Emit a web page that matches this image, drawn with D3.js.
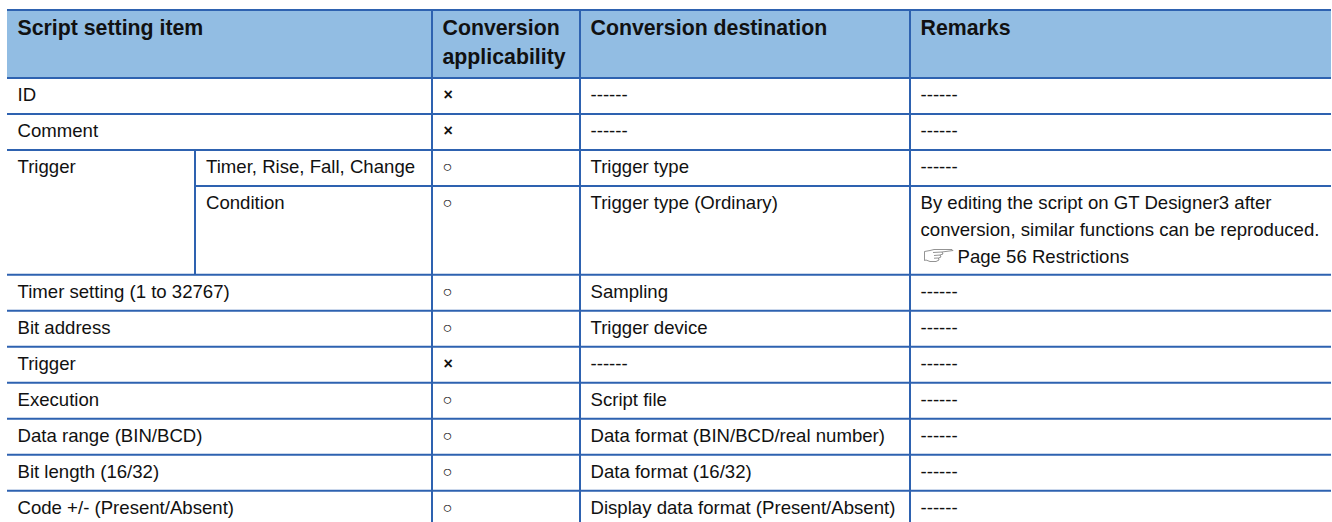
<!DOCTYPE html>
<html><head><meta charset="utf-8">
<script src="https://cdn.jsdelivr.net/npm/d3@7/dist/d3.min.js"></script>
<style>html,body{margin:0;padding:0;background:#fff;overflow:hidden}svg{display:block}</style>
</head><body><svg id="c" width="1332" height="522"></svg>
<script>
const headers = [["Script setting item"],["Conversion","applicability"],["Conversion destination"],["Remarks"]];
const items = ["ID","Comment","Trigger",null,"Timer setting (1 to 32767)","Bit address","Trigger","Execution","Data range (BIN/BCD)","Bit length (16/32)","Code +/- (Present/Absent)"];
const subItems = [null,null,"Timer, Rise, Fall, Change","Condition",null,null,null,null,null,null,null];
const applicability = ["×","×","○","○","○","○","×","○","○","○","○"];
const destinations = ["------","------","Trigger type","Trigger type (Ordinary)","Sampling","Trigger device","------","Script file","Data format (BIN/BCD/real number)","Data format (16/32)","Display data format (Present/Absent)"];
const remarks = [["------"],["------"],["------"],["By editing the script on GT Designer3 after","conversion, similar functions can be reproduced.","Page 56 Restrictions"],["------"],["------"],["------"],["------"],["------"],["------"],["------"]];
const rowUnits = [1,1,1,2.4638,1,1,1,1,1,1,1];

const line="#2e62b0", headFill="#92bde3";
const svg=d3.select("#c");
const X=[7,195,432,580,910,1331];
const Y0=10, H=68, R=36;
const yEdges=[Y0,Y0+H];
rowUnits.forEach(u=>yEdges.push(yEdges[yEdges.length-1]+u*R));
const rowTop=i=>yEdges[i+1];
const pad=10.5;
const body=18.6, head=21.3;
const txt=(x,yy,s,bold,size)=>svg.append("text").attr("x",x).attr("y",yy).text(s)
  .attr("font-family","'Liberation Sans',Arial,sans-serif").attr("font-size",size).attr("font-weight",bold?700:400).attr("fill","#111");
svg.append("rect").attr("x",X[0]).attr("y",Y0).attr("width",X[5]-X[0]).attr("height",H).attr("fill",headFill);
const hl=(x1,x2,yy)=>svg.append("line").attr("x1",x1).attr("x2",x2).attr("y1",yy).attr("y2",yy).attr("stroke",line).attr("stroke-width",2);
const vl=(x,y1,y2)=>svg.append("line").attr("x1",x).attr("x2",x).attr("y1",y1).attr("y2",y2).attr("stroke",line).attr("stroke-width",2);
yEdges.forEach((v,i)=>hl(i===4?X[1]:X[0],X[5],v));
[X[2],X[3],X[4]].forEach(x=>vl(x,Y0-1,522));
vl(X[1],rowTop(2),rowTop(4));
const headX=[X[0],X[2],X[3],X[4]];
headers.forEach((h,c)=>h.forEach((s,k)=>txt(headX[c]+pad,Y0+25+k*29,s,true,head)));
const base=i=>rowTop(i)+23;
items.forEach((s,i)=>{ if(s) txt(X[0]+pad,base(i),s,false,body); });
subItems.forEach((s,i)=>{ if(s) txt(X[1]+pad+.5,base(i),s,false,body); });
applicability.forEach((s,i)=>{
  if(s==="×") txt(X[2]+pad+1,base(i)-1,s,true,16);
  else txt(X[2]+pad,base(i)-1,s,false,16);
});
destinations.forEach((s,i)=>txt(X[3]+pad,base(i),s,false,body));
remarks.forEach((r,i)=>r.forEach((s,k)=>{
  const last=r.length>1&&k===r.length-1;
  const tx=X[4]+pad+(last?37:0), ty=base(i)+k*27;
  txt(tx,ty,s,false,body);
  if(last){
    const g=svg.append("g").attr("transform",`translate(${X[4]+14},${ty-14})`);
    g.append("path").attr("d","M0.5,2.5 L6,1.5 L10,0.5 L28,0.5 L29,1.5 L18,3 L19,5 L16,6 L17,8 L14.5,9 L15,11 L12,12.5 L6,12.5 L2,11 L0.5,11.5 Z M18,3 L9,3.5 M16,6 L10,6.5 M14.5,9 L10,9.2")
      .attr("fill","#fff").attr("stroke","#777").attr("stroke-width",0.8);
  }
}));
</script></body></html>
